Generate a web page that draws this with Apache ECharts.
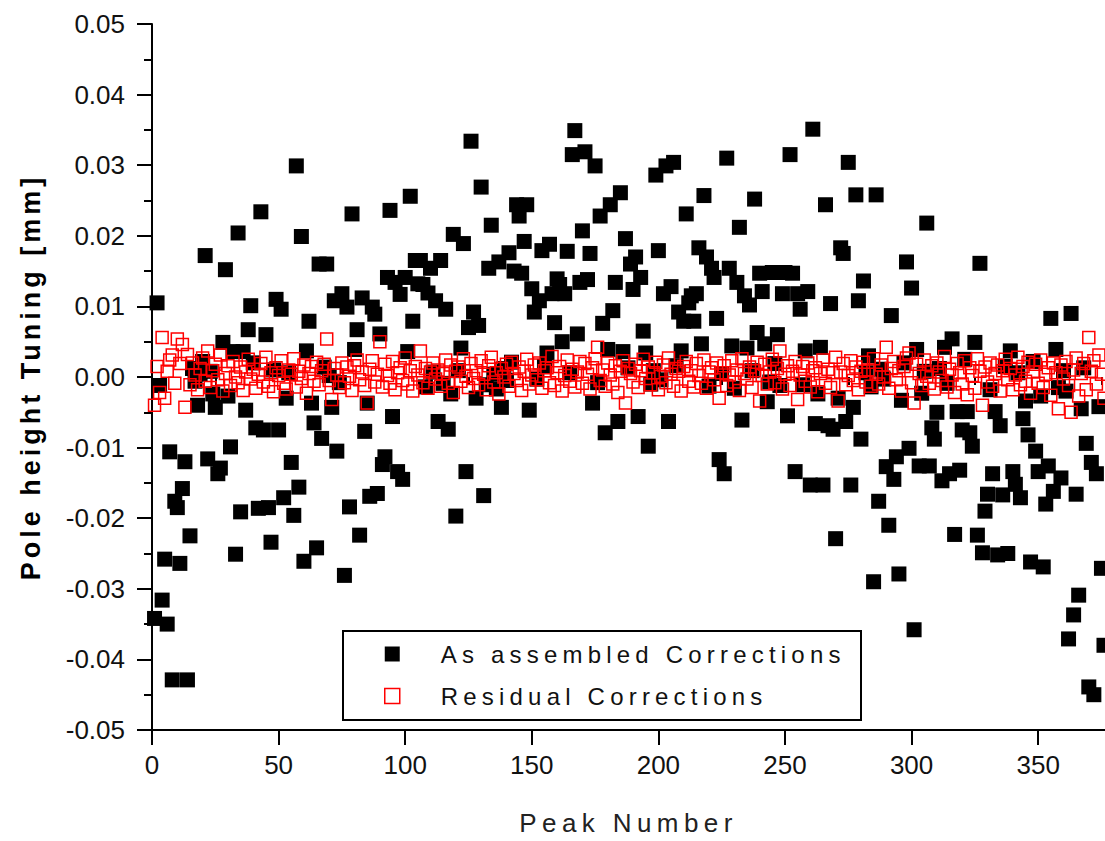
<!DOCTYPE html>
<html>
<head>
<meta charset="utf-8">
<script src="https://cdn.jsdelivr.net/npm/echarts@6/dist/echarts.min.js"></script>
<style>
html,body{margin:0;padding:0;background:#fff;}
#c{width:1105px;height:841px;}
</style>
</head>
<body>
<div id="c"></div>
<script>
// ---- data (values in micrometres; peak numbers start at 1) ----
const firstPeak = 1;
const asAssembledUm = [
-34.2, 10.5, -1.2, -31.6, -25.8, -35.0, -10.6, -42.9, -17.6, -18.5,
-26.4, -15.8, -12.0, -42.9, -22.5, 1.2, -0.6, -4.0, 0.4, 2.2,
17.2, -11.6, 0.8, -2.4, -4.3, -13.7, -12.9, 4.9, 15.2, -2.7,
-9.9, 3.6, -25.1, 20.4, -19.1, 3.6, -4.7, 6.7, 10.1, 2.0,
-7.2, -18.6, 23.4, -7.5, 6.0, -18.5, -23.4, 1.0, 11.0, -7.5,
9.6, -17.1, -3.0, 0.6, -12.1, -19.6, 29.9, -15.6, 19.9, -26.1,
3.7, 7.9, -3.7, -6.5, -24.2, 16.0, -8.7, 1.4, 16.0, 0.2,
-4.3, 10.8, -10.5, -0.8, 11.8, -28.1, 9.9, -18.4, 23.1, 3.9,
6.7, -22.4, 11.2, -7.7, -3.7, -16.9, 9.9, 8.9, -16.5, 6.1,
-12.4, -11.3, 14.1, 23.6, -5.6, 13.4, -13.4, 11.7, -14.5, 14.1,
3.6, 25.6, 7.9, 16.5, 13.2, 16.5, 13.1, -1.4, 11.9, 15.4,
0.7, 10.8, -6.3, 16.5, -0.9, 9.6, -7.4, -2.4, 20.2, -19.7,
0.9, 4.1, 18.9, -13.4, 7.0, 33.4, 9.2, -3.0, 7.3, 26.9,
-16.8, -1.1, 15.4, 21.5, 0.4, -1.7, 16.3, -4.3, 1.2, -0.5,
17.6, 2.1, 15.0, 24.4, 22.8, 14.7, 19.2, 24.4, -4.7, 12.5,
9.2, -0.3, 10.8, 17.9, 1.5, 3.4, 18.8, 11.8, 7.7, 13.9,
13.1, 5.0, 11.8, 17.8, 0.6, 31.5, 34.9, 6.1, 13.4, 20.7,
31.9, 13.8, 17.5, -3.7, 29.9, -0.8, 22.8, 7.6, -7.9, 3.9,
24.4, 9.4, 13.4, -6.3, 26.1, 3.6, 19.6, 1.3, 16.0, 12.4,
17.0, -5.6, 14.1, 6.5, 3.4, -9.8, -1.0, 0.9, 28.6, 17.9,
-0.4, 11.8, 29.9, -6.3, 12.8, 30.4, 1.6, 9.2, 3.7, 7.9,
23.1, 10.5, 11.5, 7.9, 11.8, 18.3, 4.7, 25.7, 17.0, -1.3,
15.4, 14.1, 8.3, -11.7, 0.5, -13.7, 31.0, 15.4, 4.4, -1.6,
13.4, 21.2, -6.1, 11.5, 4.1, 10.2, 0.9, 25.2, 6.3, 14.7,
12.1, 4.7, -3.5, -0.7, 14.8, 1.9, 6.0, -1.2, 11.8, 14.8,
-5.5, 31.5, 14.7, -13.4, 11.8, 9.6, -1.1, 3.7, 12.1, -15.3,
35.1, -6.6, -2.4, 4.2, -15.3, 24.4, -6.9, 10.4, -7.4, -22.9,
-3.0, 18.3, 17.5, -6.3, 30.4, -15.3, -4.3, 25.8, 10.8, -8.8,
13.6, 0.6, 3.0, -1.4, -29.0, 25.8, -17.6, 1.1, -0.3, -12.7,
-21.0, 8.7, -14.5, -11.3, -27.9, -3.3, 2.0, 16.3, -10.1, 12.6,
-35.8, 3.9, -12.6, -2.3, 0.8, 21.8, -12.6, -7.2, -8.8, -5.0,
1.2, -14.7, 4.2, -0.9, -13.7, 5.4, -22.3, -4.9, -13.2, -7.5,
2.5, -4.9, -7.9, -9.8, 4.9, -22.4, 16.1, -24.9, -19.0, -16.6,
-1.8, -13.7, -4.9, -25.2, -6.9, -16.7, 1.5, -25.0, 3.7, -13.4,
-15.2, 0.6, -17.1, -5.9, -3.4, -8.2, -26.2, 2.2, -10.5, -13.4,
-2.7, -26.9, -18.0, -12.6, 8.3, -16.2, 3.9, -1.5, -14.3, 0.9,
-2.0, -37.1, 9.0, -33.7, -16.6, -30.9, -4.5, 1.3, -9.4, -43.9,
-12.1, -45.0, -13.7, -4.2, -27.1, -38.0
];
const residualUm = [
-4.0, 1.5, -2.2, 5.6, -3.0, 0.8, 2.4, 3.1, -0.9, 5.4,
1.9, 4.6, -4.3, 3.2, -1.1, 2.0, 0.3, -1.8, 1.2, 2.7,
-0.6, 3.7, -1.5, 0.9, 1.8, -0.4, 3.1, -2.0, 0.5, 1.6,
-1.2, 2.2, 0.0, -0.8, 1.4, -1.9, 0.7, 2.5, -0.3, 1.1,
-1.6, 0.4, 1.9, -0.7, 2.8, -1.3, 0.6, -2.1, 1.3, 0.2,
2.3, -0.9, -1.7, 1.0, 0.4, 2.6, -1.4, 0.8, -0.2, 1.7,
-2.3, 0.5, 1.5, -0.6, 2.1, -1.1, 0.9, 1.8, 5.4, -0.5,
-3.2, 1.2, 0.3, -1.5, 2.0, -0.8, 1.4, 0.1, -1.9, 1.6,
2.4, -0.4, 0.7, -1.2, -3.7, 1.1, 2.3, -0.7, 0.4, 5.0,
-1.4, 1.8, 0.2, -0.9, 2.2, -1.8, 0.6, 1.3, -0.5, 2.7,
-1.0, 0.9, -2.0, 1.5, 0.3, 3.7, -0.8, 1.2, -1.6, 0.7,
2.0, -0.3, 1.0, -1.3, 0.5, 2.4, -0.9, 1.7, -2.2, 0.8,
1.4, -0.6, 2.6, 0.1, -1.5, 1.9, -0.2, 0.9, -1.1, 2.3,
0.4, -1.8, 1.6, 2.8, -0.7, 0.6, -2.4, 1.2, 0.0, 1.8,
-1.3, 2.1, 0.5, -0.5, 1.4, -1.9, 0.8, 2.5, -1.0, 0.3,
1.7, -0.4, 2.0, -1.6, 0.9, 1.3, -0.8, 2.9, -1.2, 0.6,
1.5, -2.0, 0.2, 2.4, -0.6, 1.1, -1.4, 0.7, 2.2, -0.9,
1.9, 0.4, -1.7, 1.3, 2.6, 4.2, -0.5, 1.0, -1.3, 2.0,
0.3, -1.0, 1.6, -2.2, 0.8, 2.3, -3.7, 1.2, 0.5, -0.7,
1.8, -1.5, 0.9, 2.5, -0.2, 1.4, -1.1, 0.6, 2.1, -1.8,
0.1, 1.7, -0.8, 2.7, 0.4, -1.3, 1.2, 0.8, -2.0, 1.5,
2.2, -0.6, 0.9, -1.4, 1.9, 0.2, -0.9, 2.4, -1.6, 0.7,
1.3, -0.4, 2.0, -3.0, 0.6, 1.6, -1.2, 0.3, 2.3, -0.7,
1.0, -1.9, 2.6, 0.5, -0.3, 1.4, -1.5, 0.9, 2.1, -3.4,
0.2, 1.8, -1.0, 0.7, 2.5, -0.8, 1.2, 3.7, -1.7, 0.4,
1.6, -1.2, 0.8, 2.2, -3.2, 0.3, 1.5, -0.6, 2.0, -1.4,
0.9, 1.3, -2.1, 0.5, 2.4, -0.9, 1.1, -1.5, 0.6, 2.8,
-3.4, 0.7, 1.9, -1.1, 0.2, 2.3, -0.5, 1.4, -1.8, 0.8,
2.1, -0.7, 1.0, -1.3, 2.6, 0.4, -1.0, 1.7, 0.0, 4.2,
-1.6, 1.2, 2.2, -0.4, 0.9, -2.0, 1.5, 2.7, 3.4, -0.8,
-3.7, 1.8, 0.5, -1.2, 2.4, 0.1, -0.9, 1.6, -1.7, 2.0,
0.7, -0.5, 2.9, -1.4, 1.1, 0.3, -2.2, 1.9, 0.6, -1.0,
2.3, -2.5, 1.3, 0.2, -1.6, 2.6, 0.8, -4.0, 1.4, -0.7,
2.0, -1.3, 0.5, 1.7, -2.0, 0.9, 2.5, -0.4, 1.2, -1.8,
0.3, 2.8, -1.1, 1.5, -0.6, 2.1, -2.3, 0.7, 1.8, -0.9,
2.4, -1.5, 0.4, 1.3, -2.6, 2.0, 0.6, -4.5, 1.7, -0.3,
2.2, -1.2, -5.0, 1.0, 2.7, -2.7, 0.5, 1.9, -1.8, 5.6,
0.8, 2.3, -1.0, 3.1, 0.4, -3.0
];
const xMajorTicks = [0, 50, 100, 150, 200, 250, 300, 350];
const xMinorTicks = [25, 75, 125, 175, 225, 275, 325, 375];
const seriesNames = ['As assembled Corrections', 'Residual Corrections'];
const xTitle = 'Peak Number';
const yTitle = 'Pole height Tuning [mm]';

// ---- chart ----
const FONT = '"Liberation Sans", Arial, sans-serif';
const toPoints = arr => arr.map((v, i) => [firstPeak + i, v / 1000]);

const chart = echarts.init(document.getElementById('c'), null, {renderer: 'svg'});
const option = {
  animation: false,
  backgroundColor: '#fff',
  grid: {left: 152, right: 0, top: 24, bottom: 106, containLabel: false},
  xAxis: [{
    type: 'value', min: 0, max: 376.4,
    name: xTitle, nameLocation: 'middle', nameGap: 80,
    nameTextStyle: {fontFamily: FONT, fontSize: 26, color: '#222'},
    axisLine: {show: true, onZero: false, lineStyle: {color: '#000', width: 2}},
    axisTick: {show: true, inside: false, length: 15, lineStyle: {color: '#000', width: 2}, customValues: xMajorTicks},
    axisLabel: {show: true, margin: 22, fontFamily: FONT, fontSize: 26, color: '#111', customValues: xMajorTicks},
    splitLine: {show: false}
  }, {
    type: 'value', min: 0, max: 376.4, position: 'bottom',
    axisLine: {show: false},
    axisTick: {show: true, inside: false, length: 8, lineStyle: {color: '#000', width: 2}, customValues: xMinorTicks},
    axisLabel: {show: false},
    splitLine: {show: false}
  }],
  yAxis: {
    type: 'value', min: -0.05, max: 0.05, interval: 0.01,
    name: yTitle, nameLocation: 'middle', nameGap: 108,
    nameTextStyle: {fontFamily: FONT, fontSize: 27, fontWeight: 'bold', color: '#000'},
    axisLine: {show: true, onZero: false, lineStyle: {color: '#000', width: 2}},
    axisTick: {show: true, inside: false, length: 15, lineStyle: {color: '#000', width: 2}},
    minorTick: {show: true, splitNumber: 2, length: 8, lineStyle: {color: '#000', width: 2}},
    axisLabel: {margin: 27, fontFamily: FONT, fontSize: 26, color: '#111',
      formatter: v => (Math.abs(v) < 1e-9 ? 0 : v).toFixed(2)},
    splitLine: {show: false}
  },
  legend: {
    orient: 'vertical', left: 379, top: 637, itemWidth: 51, itemHeight: 15, itemGap: 18,
    selectedMode: false, z: 6,
    textStyle: {fontFamily: FONT, fontSize: 24, color: '#111'},
    data: [
      {name: seriesNames[0], icon: 'square', itemStyle: {color: '#000', borderWidth: 0}},
      {name: seriesNames[1], icon: 'square', itemStyle: {color: 'rgba(0,0,0,0)', borderColor: '#ff0000', borderWidth: 1.5}}
    ]
  },
  graphic: [{
    type: 'rect', z: 5,
    shape: {x: 343, y: 631, width: 518, height: 89},
    style: {fill: '#fff', stroke: '#000', lineWidth: 2}
  }],
  series: [{
    type: 'scatter', name: seriesNames[0], symbol: 'square', symbolSize: 15,
    itemStyle: {color: '#000', opacity: 1},
    data: toPoints(asAssembledUm), z: 2
  }, {
    type: 'scatter', name: seriesNames[1], symbol: 'square', symbolSize: 12,
    itemStyle: {color: 'rgba(0,0,0,0)', borderColor: '#ff0000', borderWidth: 1.5, opacity: 1},
    data: toPoints(residualUm), z: 3
  }]
};
chart.setOption(option);

// letter spacing of the wide-set titles and legend texts (SVG text)
const spacing = {};
spacing[seriesNames[0]] = '5.2px';
spacing[seriesNames[1]] = '5.2px';
spacing[xTitle] = '5.4px';
spacing[yTitle] = '4px';
function applySpacing() {
  document.querySelectorAll('#c text').forEach(t => {
    const k = (t.textContent || '').trim();
    if (spacing[k]) t.style.letterSpacing = spacing[k];
  });
}
chart.on('finished', applySpacing);
applySpacing();
setTimeout(applySpacing, 0);
</script>
</body>
</html>
